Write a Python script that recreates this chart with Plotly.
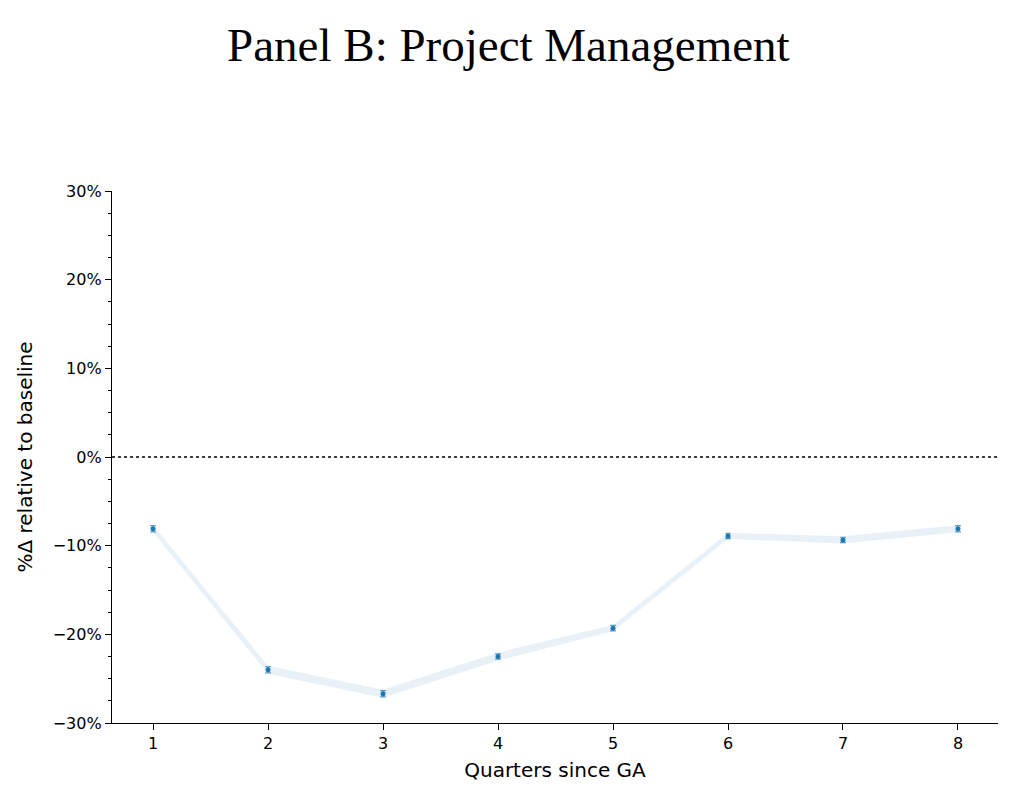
import plotly.graph_objects as go

# quarters since GA and estimated effect (%)
quarters = [1, 2, 3, 4, 5, 6, 7, 8]
effect = [-8.1, -24.0, -26.7, -22.5, -19.3, -8.9, -9.35, -8.1]
ci_low = [-8.5, -24.45, -27.15, -22.95, -19.65, -9.25, -9.75, -8.5]
ci_high = [-7.7, -23.55, -26.25, -22.05, -18.95, -8.55, -8.95, -7.7]
err = [0.35, 0.35, 0.35, 0.3, 0.3, 0.3, 0.3, 0.35]

y_ticks = [-30, -20, -10, 0, 10, 20, 30]
y_labels = ["\u221230%", "\u221220%", "\u221210%", "0%", "10%", "20%", "30%"]

blue = "#1f77b4"

fig = go.Figure()

# confidence band
fig.add_trace(go.Scatter(x=quarters, y=ci_high, mode="lines", line=dict(width=0),
                         showlegend=False, hoverinfo="skip"))
fig.add_trace(go.Scatter(x=quarters, y=ci_low, mode="lines", line=dict(width=0),
                         fill="tonexty", fillcolor="rgba(31,119,180,0.10)",
                         showlegend=False, hoverinfo="skip"))

# point estimates
fig.add_trace(go.Scatter(
    x=quarters, y=effect, mode="markers",
    marker=dict(color=blue, size=5),
    error_y=dict(type="data", array=err, color="rgba(31,119,180,0.7)", thickness=1.2, width=3),
    showlegend=False,
))

# zero line
fig.add_shape(type="line", xref="paper", x0=0, x1=1, y0=0, y1=0,
              line=dict(color="black", width=1.3, dash="dot"))

# page has an 8px body margin, so the figure is drawn 8px smaller
fig.update_layout(
    width=1015, height=801,
    margin=dict(l=104, r=25, t=183, b=86),
    paper_bgcolor="white", plot_bgcolor="white",
    font=dict(family="DejaVu Sans", color="black"),
    title=dict(text="Panel B: Project Management", x=0.493, xanchor="center",
               y=0.954, yanchor="middle",
               font=dict(family="Liberation Serif", size=47, color="black")),
)

fig.update_xaxes(
    range=[0.643, 8.348], tickvals=quarters,
    showline=True, linecolor="black", linewidth=1.3,
    ticks="outside", ticklen=6, tickcolor="black", tickwidth=1.3,
    showgrid=False, zeroline=False, tickfont=dict(size=16),
    title=dict(text="Quarters since GA", font=dict(size=20), standoff=10),
)
fig.update_yaxes(
    range=[-30, 30], tickmode="array", tickvals=y_ticks, ticktext=y_labels,
    showline=True, linecolor="black", linewidth=1.3,
    ticks="outside", ticklen=6, tickcolor="black", tickwidth=1.3,
    minor=dict(dtick=2.5, ticks="outside", ticklen=3, tickcolor="black", tickwidth=1),
    showgrid=False, zeroline=False, tickfont=dict(size=16),
    title=dict(text="%Δ relative to baseline", font=dict(size=20), standoff=14),
)

fig.write_html("out.html")
